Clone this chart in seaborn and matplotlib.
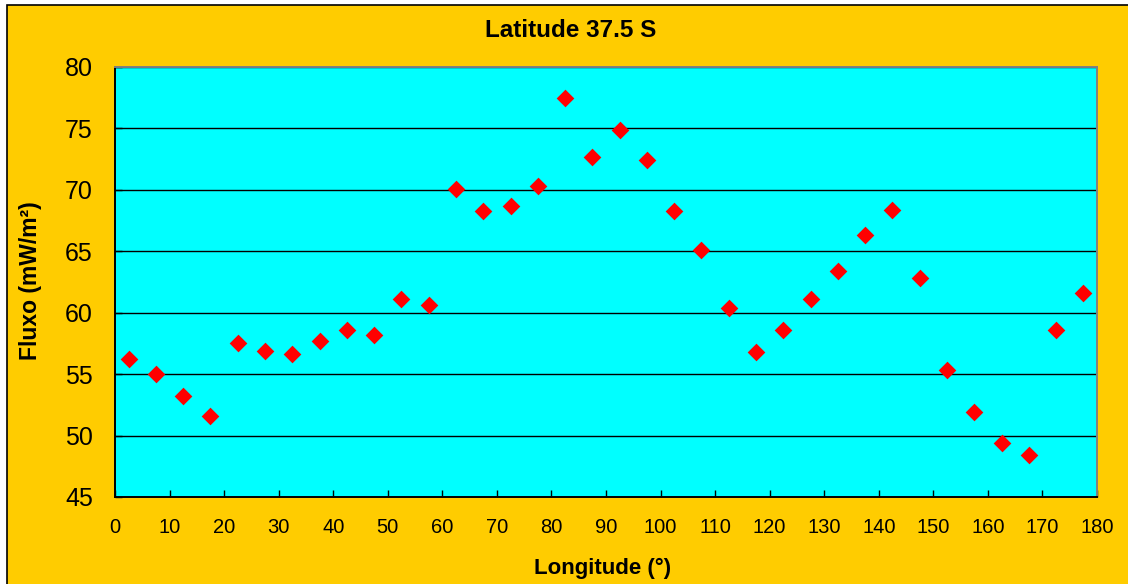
import matplotlib

matplotlib.use("Agg", force=True)
import matplotlib.pyplot as plt
import pandas as pd
import seaborn as sns
from matplotlib.patches import Rectangle


LONGITUDE = [2.5, 7.5, 12.5, 17.5, 22.5, 27.5, 32.5, 37.5, 42.5, 47.5, 52.5, 57.5,
             62.5, 67.5, 72.5, 77.5, 82.5, 87.5, 92.5, 97.5, 102.5, 107.5, 112.5, 117.5,
             122.5, 127.5, 132.5, 137.5, 142.5, 147.5, 152.5, 157.5, 162.5, 167.5, 172.5, 177.5]
FLUXO = [56.2, 55.0, 53.2, 51.6, 57.5, 56.9, 56.6, 57.7, 58.6, 58.2, 61.1, 60.6,
         70.1, 68.3, 68.7, 70.3, 77.5, 72.7, 74.9, 72.4, 68.3, 65.1, 60.4, 56.8,
         58.6, 61.1, 63.4, 66.3, 68.4, 62.8, 55.3, 51.9, 49.4, 48.4, 58.6, 61.6]
X_TICKS = list(range(0, 181, 10))
Y_TICKS = list(range(45, 81, 5))

TITLE = "Latitude 37.5 S"
XLABEL = "Longitude (°)"
YLABEL = "Fluxo (mW/m²)"

W, H = 1128, 584


def set_style() -> None:
    sns.set_style("white")
    plt.rcParams["font.family"] = ["Liberation Sans", "DejaVu Sans"]
    plt.rcParams["axes.unicode_minus"] = False
    for key in ("text.color", "axes.labelcolor", "xtick.color", "ytick.color"):
        plt.rcParams[key] = "black"


def main() -> None:
    set_style()
    df = pd.DataFrame({"lon": LONGITUDE, "fluxo": FLUXO})

    fig = plt.figure(figsize=(W / 100, H / 100), dpi=100)
    fig.patch.set_facecolor("white")
    # orange chart area with black frame (runs off the right/bottom edges)
    fig.add_artist(Rectangle((7 / W, -0.05), 1.2, (H - 5) / H + 0.05,
                             transform=fig.transFigure, facecolor="#FFCC00",
                             edgecolor="black", linewidth=1.2, zorder=-5))

    ax = fig.add_axes([115 / W, 1 - 497 / H, (1097 - 115) / W, (497 - 67) / H])
    ax.set_facecolor("#00FFFF")

    sns.scatterplot(data=df, x="lon", y="fluxo", marker="D", s=81, color="#FF0000",
                    linewidth=0, ax=ax, zorder=3, legend=False)

    ax.set_xlim(0, 180)
    ax.set_ylim(45, 80)
    ax.set_xticks(X_TICKS)
    ax.set_yticks(Y_TICKS)
    ax.yaxis.grid(True, color="black", linewidth=1.0)
    ax.xaxis.grid(False)
    ax.set_axisbelow(True)

    ax.tick_params(axis="x", direction="in", length=5, width=1, color="black",
                   labelsize=14.5, pad=15, bottom=True, labelcolor="black")
    ax.tick_params(axis="y", direction="in", length=5, width=1, color="black",
                   labelsize=18, pad=16, left=True, labelcolor="black")

    for side in ("left", "bottom"):
        ax.spines[side].set_color("black")
        ax.spines[side].set_linewidth(1.4)
    for side in ("top", "right"):
        ax.spines[side].set_color("#808080")
        ax.spines[side].set_linewidth(1.4)

    ax.set_xlabel(XLABEL, fontsize=16, fontweight="bold", va="baseline", color="black")
    ax.xaxis.set_label_coords((603 - 115) / 982, (497 - 574) / 430)
    ax.set_ylabel(YLABEL, fontsize=16.5, fontweight="bold", va="center", color="black")
    ax.yaxis.set_label_coords((31 - 115) / 982, (497 - 281) / 430)

    fig.text(571 / W, 1 - 37 / H, TITLE, fontsize=17.5, fontweight="bold",
             ha="center", va="baseline", color="black")

    fig.savefig("out.png", dpi=100)
    plt.close(fig)


if __name__ == "__main__":
    main()
